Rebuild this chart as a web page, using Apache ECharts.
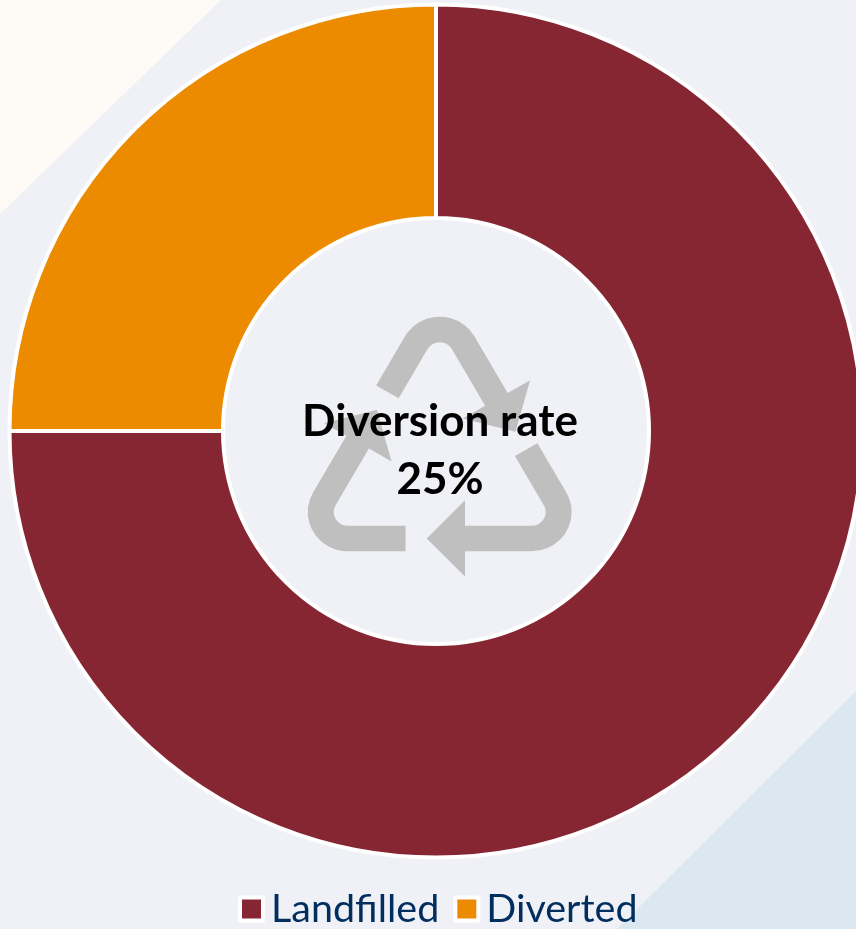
<!DOCTYPE html>
<html>
<head>
<meta charset="utf-8">
<title>Diversion rate</title>
<style>html,body{margin:0;padding:0;background:#F0F1F6}#chart{width:856px;height:929px}</style>
<script src="https://cdn.jsdelivr.net/npm/echarts@6/dist/echarts.min.js"></script>
</head>
<body>
<div id="chart"></div>
<script>
// Waste streams, percent of total
const categories = ['Landfilled', 'Diverted'];
const shares = [75, 25];
const streamColors = ['#862633', '#ED8B00'];
const centerHeading = 'Diversion rate';

// One arm of the recycling symbol, drawn around the symbol's centre
const arrowPath = 'M-13 80 L25.3 119 L25.3 93.1 L92 93.1 A40 40 0 0 0 126.6 33.1 L97.7 -17 L75.2 -4 L104.1 46.1 A14 14 0 0 1 92 67.1 L25.3 67.1 L25.3 41 Z';
const armAngles = [0, 120, 240];

const total = shares.reduce((a, b) => a + b, 0);
const divertedPct = Math.round(shares[categories.indexOf('Diverted')] / total * 100);

const chart = echarts.init(document.getElementById('chart'), null, { renderer: 'canvas' });

chart.setOption({
  animation: false,
  backgroundColor: '#F0F1F6',
  color: streamColors,
  legend: {
    show: true,
    left: 238,
    top: 889,
    padding: 0,
    itemWidth: 23,
    itemHeight: 23,
    itemGap: 14,
    icon: 'rect',
    selectedMode: false,
    itemStyle: { borderColor: '#FFFFFF', borderWidth: 4 },
    textStyle: { fontFamily: 'Lato', fontSize: 39.5, color: '#002F5F', padding: [0, 0, 1, 3] },
    data: categories
  },
  graphic: [
    { type: 'polygon', z: -10, silent: true,
      shape: { points: [[0, 0], [221, 0], [0, 214]] }, style: { fill: '#FEFAF6' } },
    { type: 'polygon', z: -10, silent: true,
      shape: { points: [[856, 691], [856, 929], [617, 929]] }, style: { fill: '#DCE8F1' } },
    { type: 'text', z: 5, silent: true, x: 440, y: 422,
      style: { text: centerHeading, fontFamily: 'Lato', fontWeight: 'bold', fontSize: 44,
               fill: '#000000', align: 'center', verticalAlign: 'middle' } },
    { type: 'text', z: 5, silent: true, x: 440, y: 480,
      style: { text: divertedPct + '%', fontFamily: 'Lato', fontWeight: 'bold', fontSize: 44,
               fill: '#000000', align: 'center', verticalAlign: 'middle' } }
  ],
  series: [{
    type: 'pie',
    center: [436, 431],
    radius: [213, 426.5],
    startAngle: 90,
    clockwise: true,
    silent: true,
    label: { show: false },
    labelLine: { show: false },
    itemStyle: { borderColor: '#FFFFFF', borderWidth: 4 },
    data: categories.map((name, i) => ({ name, value: shares[i] }))
  }, {
    // The recycling symbol in the hole of the ring
    type: 'custom',
    coordinateSystem: 'none',
    silent: true,
    z: 3,
    data: armAngles,
    renderItem: (params, api) => ({
      type: 'group',
      x: 439.7,
      y: 460,
      scaleY: 0.98,
      children: [{
        type: 'path',
        rotation: api.value(0) * Math.PI / 180,
        shape: { pathData: arrowPath },
        style: { fill: '#BFBFBF' }
      }]
    })
  }]
});
</script>
</body>
</html>
